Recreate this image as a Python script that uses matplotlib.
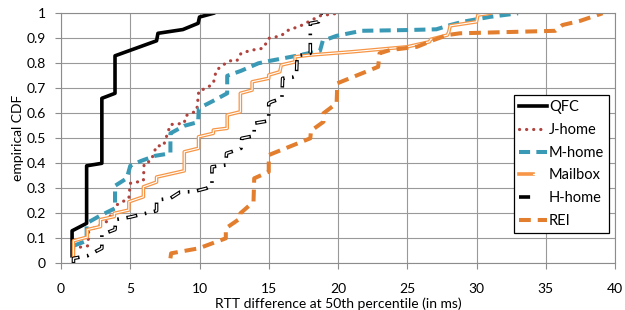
import matplotlib
matplotlib.use('Agg')
import matplotlib.pyplot as plt
from matplotlib.legend_handler import HandlerTuple

plt.rcParams['font.family'] = ['Lato', 'DejaVu Sans']
plt.rcParams['lines.scale_dashes'] = False

# values (x in ms, y = CDF)
labels = ['QFC', 'J-home', 'M-home', 'Mailbox', 'H-home', 'REI']

qfc_x = [0.8, 0.8, 1.85, 1.85, 2.95, 2.95, 3.9, 3.9, 6.9, 7.0, 8.8, 9.9, 10.0, 11.0]
qfc_y = [0.03, 0.13, 0.16, 0.39, 0.40, 0.66, 0.68, 0.83, 0.89, 0.92, 0.935, 0.96, 0.985, 1.0]

j_x = [0.9, 1.95, 2.0, 3.4, 3.9, 4.9, 5.0, 5.95, 6.0, 6.5, 6.9, 7.4, 7.9, 8.9, 9.0, 9.8, 9.95,
       10.5, 11.0, 11.2, 11.6, 12.2, 12.7, 13.0, 13.6, 14.1, 14.6, 15.0, 15.9, 16.3, 17.3, 18.0,
       18.7, 20.0]
j_y = [0.06, 0.07, 0.13, 0.17, 0.23, 0.26, 0.32, 0.33, 0.40, 0.41, 0.47, 0.47, 0.555, 0.56,
       0.59, 0.61, 0.69, 0.70, 0.72, 0.77, 0.79, 0.81, 0.81, 0.84, 0.85, 0.856, 0.86, 0.90, 0.91,
       0.93, 0.95, 0.97, 0.99, 1.0]

m_x = [0.9, 1.85, 1.85, 2.8, 3.9, 3.9, 4.75, 5.0, 5.8, 6.8, 7.9, 7.9, 8.9, 9.9, 9.95, 11.0,
       12.0, 12.0, 13.0, 14.25, 15.1, 17.0, 18.7, 18.9, 19.9, 21.7, 25.0, 27.1, 28.1, 29.0, 30.0,
       31.0, 33.0]
m_y = [0.07, 0.09, 0.16, 0.19, 0.22, 0.31, 0.34, 0.39, 0.41, 0.43, 0.44, 0.52, 0.55, 0.565,
       0.62, 0.65, 0.68, 0.75, 0.77, 0.80, 0.81, 0.83, 0.85, 0.89, 0.91, 0.93, 0.933, 0.936,
       0.953, 0.966, 0.976, 0.986, 1.0]

mb_x = [0.9, 0.9, 1.9, 1.9, 2.85, 2.85, 3.85, 3.85, 4.9, 4.9, 5.95, 5.95, 6.9, 6.9, 8.9, 8.9,
        9.93, 9.93, 11.0, 11.0, 12.0, 12.0, 12.95, 12.95, 13.8, 13.8, 15.0, 15.0, 15.8, 15.9,
        16.9, 16.9, 18.0, 21.0, 25.0, 26.6, 26.7, 27.9, 28.0, 28.1, 30.0, 30.1, 31.0]
mb_y = [0.03, 0.09, 0.105, 0.135, 0.147, 0.175, 0.187, 0.2, 0.213, 0.246, 0.266, 0.306, 0.325,
        0.345, 0.37, 0.446, 0.46, 0.506, 0.52, 0.533, 0.54, 0.593, 0.606, 0.68, 0.693, 0.726,
        0.74, 0.753, 0.766, 0.793, 0.806, 0.826, 0.833, 0.846, 0.866, 0.886, 0.896, 0.913, 0.926,
        0.95, 0.966, 0.993, 1.0]

h_x = [0.9, 0.9, 1.9, 2.95, 2.95, 3.9, 3.95, 5.0, 5.9, 6.9, 6.9, 7.9, 8.6, 9.6, 10.5, 10.9,
       10.9, 11.9, 11.95, 12.8, 13.0, 13.05, 13.95, 13.95, 15.0, 15.0, 15.2, 15.95, 16.0, 16.7,
       17.0, 17.05, 18.0, 18.0, 18.6, 18.8]
h_y = [0.0, 0.02, 0.03, 0.06, 0.115, 0.135, 0.175, 0.185, 0.197, 0.21, 0.253, 0.26, 0.285,
       0.287, 0.30, 0.31, 0.386, 0.393, 0.44, 0.455, 0.46, 0.50, 0.51, 0.56, 0.57, 0.64, 0.646,
       0.66, 0.74, 0.744, 0.75, 0.83, 0.84, 0.96, 0.966, 1.0]

r_x = [7.9, 7.95, 9.95, 11.9, 11.9, 12.95, 12.95, 13.9, 13.95, 15.0, 15.0, 18.0, 18.05, 18.95,
       18.95, 19.9, 19.95, 22.9, 23.0, 23.75, 25.7, 26.9, 27.9, 28.8, 35.7, 36.2, 37.5, 39.1]
r_y = [0.02, 0.04, 0.06, 0.10, 0.14, 0.18, 0.20, 0.246, 0.34, 0.366, 0.433, 0.50, 0.53, 0.566,
       0.60, 0.64, 0.72, 0.786, 0.84, 0.853, 0.866, 0.893, 0.913, 0.92, 0.93, 0.953, 0.97, 1.0]

x_ticks = [0, 5, 10, 15, 20, 25, 30, 35, 40]
y_ticks = [0, 0.1, 0.2, 0.3, 0.4, 0.5, 0.6, 0.7, 0.8, 0.9, 1]
y_tick_labels = ['0', '0.1', '0.2', '0.3', '0.4', '0.5', '0.6', '0.7', '0.8', '0.9', '1']

fig = plt.figure(figsize=(6.25, 3.1), dpi=100)
ax = fig.add_axes([0.0976, 0.1506, 0.8864, 0.8065])

l_qfc, = ax.plot(qfc_x, qfc_y, color='black', lw=2.6)
l_j, = ax.plot(j_x, j_y, color='#B0433E', lw=2.3, linestyle=(0, (0.1, 5)),
               dash_capstyle='round')
l_m, = ax.plot(m_x, m_y, color='#3A9AB5', lw=2.9, linestyle=(0, (8, 4.5)))
mb1, = ax.plot(mb_x, mb_y, color='#F79646', lw=2.6)
mb2, = ax.plot(mb_x, mb_y, color='white', lw=0.8)
# hollow dash + dot: black pattern, then a thinner white pattern inside the dashes
h1, = ax.plot(h_x, h_y, color='black', lw=2.6, linestyle=(0, (8, 5.5, 1.2, 5.5)))
h2, = ax.plot(h_x, h_y, color='white', lw=1.0, linestyle=(19.2, (6, 14.2)))
l_r, = ax.plot(r_x, r_y, color='#E27E2D', lw=2.9, linestyle=(0, (8.5, 5)))

ax.set_xlim(0, 40)
ax.set_ylim(0, 1)
ax.set_xticks(x_ticks)
ax.set_yticks(y_ticks)
ax.set_yticklabels(y_tick_labels)
ax.grid(True, color='#999999', lw=0.8)
ax.set_axisbelow(True)
for s in ax.spines.values():
    s.set_color('#8c8c8c')
    s.set_linewidth(0.8)
ax.tick_params(axis='both', labelsize=10, length=4, width=0.8, color='#8c8c8c')
ax.tick_params(axis='x', pad=10)
ax.tick_params(axis='y', pad=7)

ax.set_xlabel('RTT difference at 50th percentile (in ms)', fontsize=10, labelpad=2)
ax.set_ylabel('empirical CDF', fontsize=10, labelpad=2)

handles = [l_qfc, l_j, l_m, (mb1, mb2), (h1, h2), l_r]
leg = ax.legend(handles, labels, handler_map={tuple: HandlerTuple(ndivide=None, pad=0)},
                loc='upper right', bbox_to_anchor=(0.99, 0.673), fontsize=10.5,
                handlelength=1.9, handletextpad=0.15, labelspacing=0.6, borderpad=0.35,
                borderaxespad=0, fancybox=False, framealpha=1, edgecolor='black')
leg.get_frame().set_linewidth(0.9)

fig.savefig('out.png', dpi=100)
